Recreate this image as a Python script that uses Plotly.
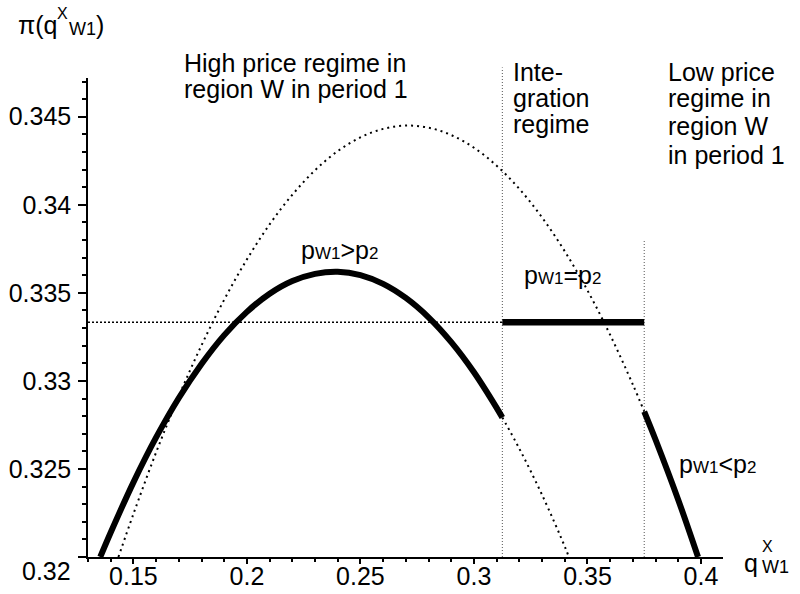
import plotly.graph_objects as go

# ---------------- data ----------------
# Profit curve in the high-price regime (p_W1 > p_2): solid part and dotted continuation
qA_solid = [0.1354, 0.14, 0.15, 0.16, 0.17, 0.18, 0.19, 0.20, 0.21, 0.22, 0.23,
            0.24, 0.25, 0.26, 0.27, 0.28, 0.29, 0.30, 0.31, 0.3125]
piA_solid = [0.3200, 0.32139, 0.32424, 0.32679, 0.32903, 0.33096, 0.33260, 0.33392,
             0.33495, 0.33567, 0.33608, 0.33620, 0.33601, 0.33551, 0.33471, 0.33361,
             0.33220, 0.33049, 0.32847, 0.32792]
qA_dot = [0.3125, 0.32, 0.33, 0.34, 0.3418]
piA_dot = [0.32792, 0.32615, 0.32353, 0.32060, 0.3200]

# Profit curve in the low-price regime (p_W1 < p_2): dotted part and solid part
qB_dot = [0.1434, 0.15, 0.16, 0.17, 0.18, 0.19, 0.20, 0.21, 0.22, 0.23, 0.24, 0.25,
          0.26, 0.27, 0.28, 0.29, 0.30, 0.31, 0.32, 0.33, 0.34, 0.35, 0.36, 0.37, 0.375]
piB_dot = [0.3200, 0.32244, 0.32594, 0.32913, 0.33202, 0.33461, 0.33690, 0.33889,
           0.34057, 0.34196, 0.34305, 0.34383, 0.34431, 0.34450, 0.34438, 0.34396,
           0.34324, 0.34222, 0.34090, 0.33928, 0.33736, 0.33514, 0.33261, 0.32979,
           0.32826]
qB_solid = [0.375, 0.38, 0.39, 0.3987]
piB_solid = [0.32826, 0.32666, 0.32324, 0.3200]

# Integration regime (p_W1 = p_2)
q_int = [0.3125, 0.375]
pi_int = [0.33333, 0.33333]
pi_ref = 0.33333

# regime boundaries and the tops of their dotted lines
q_bounds = [0.3125, 0.375]
bound_tops = [0.3478, 0.3380]

x_range = [0.130, 0.4097]
y_range = [0.32, 0.3472]
x_ticks = [0.15, 0.2, 0.25, 0.3, 0.35, 0.4]
x_ticklabels = ["0.15", "0.2", "0.25", "0.3", "0.35", "0.4"]
y_ticks = [0.32, 0.325, 0.33, 0.335, 0.34, 0.345]
y_ticklabels = ["", "0.325", "0.33", "0.335", "0.34", "0.345"]

# ---------------- figure ----------------
W, H = 800, 594
L, R, T, B = 88, 77, 78, 37
FONT = "Liberation Sans, Arial, sans-serif"

fig = go.Figure()

thick = dict(color="black", width=6)
dotted = dict(color="black", width=2, dash="2px,4px")

fig.add_trace(go.Scatter(x=qB_dot, y=piB_dot, mode="lines", line=dotted, line_shape="spline"))
fig.add_trace(go.Scatter(x=qA_dot, y=piA_dot, mode="lines", line=dotted, line_shape="spline"))
fig.add_trace(go.Scatter(x=[x_range[0], q_int[0]], y=[pi_ref, pi_ref], mode="lines",
                         line=dict(color="black", width=1.5, dash="2px,2px")))
fig.add_trace(go.Scatter(x=qA_solid, y=piA_solid, mode="lines", line=thick, line_shape="spline"))
fig.add_trace(go.Scatter(x=qB_solid, y=piB_solid, mode="lines", line=thick, line_shape="spline"))
fig.add_trace(go.Scatter(x=q_int, y=pi_int, mode="lines", line=dict(color="black", width=6.5)))

ysp = y_range[1] - y_range[0]
for qb, top in zip(q_bounds, bound_tops):
    fig.add_shape(type="line", xref="x", yref="paper", x0=qb, x1=qb,
                  y0=0, y1=(top - y_range[0]) / ysp,
                  line=dict(color="#555555", width=1, dash="1px,2px"), layer="below")

def px(x):
    return (x - L) / (W - L - R)

def py(y):
    return (H - B - y) / (H - T - B)

def txt(s, x, y, size=25, xanchor="left"):
    fig.add_annotation(text=s, x=px(x), y=py(y), xref="paper", yref="paper",
                       xanchor=xanchor, yanchor="middle", showarrow=False,
                       font=dict(family=FONT, size=size, color="black"))

# y-axis title  π(q^X_W1)
txt("π(q", 16, 25)
txt("X", 55, 14, size=16)
txt("W1", 67, 29, size=18)
txt(")", 94, 25)

# x-axis title  q^X_W1
txt("q", 742, 563)
txt("X", 760, 546, size=16)
txt("W1", 760, 567, size=18)

# bottom y tick label, drawn below its tick as in the reference
txt("0.32", 73, 571, xanchor="right")

# regime texts
for s, yy in zip(["High price regime in", "region W in period 1"], [63, 89]):
    txt(s, 182, yy)
for s, yy in zip(["Inte-", "gration", "regime"], [72, 98, 124]):
    txt(s, 511, yy)
for s, yy in zip(["Low price", "regime in", "region W", "in period 1"], [72, 98, 126, 155]):
    txt(s, 666, yy)

sub = '<span style="font-size:17px">%s</span>'
txt("p" + sub % "W1" + "&gt;p" + sub % "2", 299, 250)
txt("p" + sub % "W1" + "=p" + sub % "2", 522, 275)
txt("p" + sub % "W1" + "&lt;p" + sub % "2", 677, 464)

axis_common = dict(showgrid=False, zeroline=False, showline=True, linecolor="black",
                   linewidth=1.5, ticks="outside", tickcolor="black", tickwidth=1.5,
                   automargin=False,
                   tickfont=dict(family=FONT, size=25, color="black"))

fig.update_xaxes(range=x_range, tickvals=x_ticks, ticktext=x_ticklabels, ticklen=5,
                 ticklabelstandoff=-9,
                 minor=dict(dtick=0.01, tick0=0.15, ticklen=3, ticks="outside",
                            tickcolor="black", tickwidth=1.5, showgrid=False),
                 **axis_common)
fig.update_yaxes(range=y_range, tickvals=y_ticks, ticktext=y_ticklabels, ticklen=8,
                 ticklabelstandoff=2,
                 minor=dict(dtick=0.001, tick0=0.32, ticklen=4, ticks="outside",
                            tickcolor="black", tickwidth=1.5, showgrid=False),
                 **axis_common)

fig.update_layout(width=W, height=H, margin=dict(l=L, r=R, t=T, b=B, pad=0),
                  plot_bgcolor="white", paper_bgcolor="white", showlegend=False)

fig.write_html("out.html", config={"displayModeBar": False},
               post_script="document.body.style.margin='0px';"
                           "document.body.style.overflow='hidden';")
